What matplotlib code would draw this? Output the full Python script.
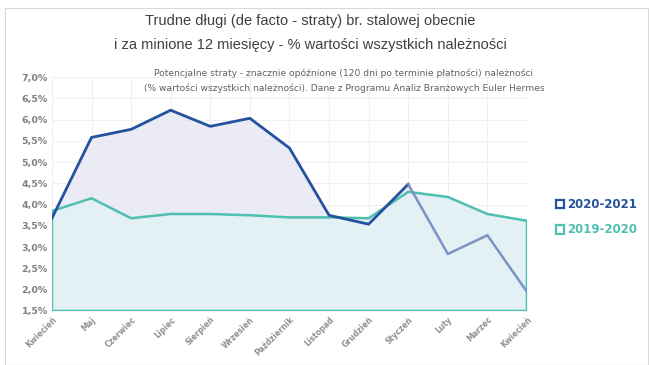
import matplotlib
matplotlib.use("Agg")
import matplotlib.pyplot as plt
from matplotlib.patches import Rectangle
from matplotlib.ticker import FuncFormatter
import numpy as np

months = ["Kwiecień", "Maj", "Czerwiec", "Lipiec", "Sierpień", "Wrzesień",
          "Październik", "Listopad", "Grudzień", "Styczeń", "Luty", "Marzec", "Kwiecień"]
s2020_2021 = [3.68, 5.58, 5.77, 6.22, 5.84, 6.03, 5.33, 3.75, 3.54, 4.48, 2.84, 3.28, 1.95]
s2019_2020 = [3.85, 4.15, 3.68, 3.78, 3.78, 3.75, 3.70, 3.70, 3.68, 4.30, 4.18, 3.78, 3.62]
labels = ["2020-2021", "2019-2020"]

blue = "#24529e"
teal = "#4fbfb0"
base = 1.5

fig = plt.figure(figsize=(6.49, 3.65), dpi=100)
fig.patch.set_facecolor("white")
fig.patches.append(Rectangle((0.008, 0.0), 0.99, 0.978, transform=fig.transFigure,
                             fill=False, edgecolor="#d9d9d9", lw=0.8))

ax = fig.add_axes([0.080, 0.148, 0.732, 0.641])
x = np.arange(len(months))

ax.fill_between(x, base, s2020_2021, color="#e6e6f4", alpha=0.8, lw=0, zorder=1)
ax.fill_between(x, base, s2019_2020, color="#e3f0f4", lw=0, zorder=2)
ax.plot(np.r_[x[0], x, x[-1], x[0], x[0]],
        np.r_[base, s2019_2020, base, base, base],
        color=teal, lw=1.8, zorder=3, solid_joinstyle="round")
ax.plot(x[:10], s2020_2021[:10], color=blue, lw=2.0, zorder=4)
ax.plot(x[9:], s2020_2021[9:], color="#7b93c6", lw=1.8, zorder=4)

ax.set_xlim(0, len(months) - 1)
ax.set_ylim(1.5, 7.0)
ax.set_yticks(np.arange(1.5, 7.01, 0.5))
ax.yaxis.set_major_formatter(FuncFormatter(lambda v, p: f"{v:.1f}%".replace(".", ",")))
ax.set_xticks(x)
ax.set_xticklabels(months, rotation=45, ha="right", rotation_mode="anchor")
ax.grid(True, color="#ececec", lw=0.6)
ax.set_axisbelow(True)
for s in ax.spines.values():
    s.set_visible(False)
ax.tick_params(length=0, labelsize=6.8, labelcolor="#808080", pad=3)
for t in ax.get_xticklabels():
    t.set_fontweight("bold")
    t.set_fontsize(5.6)
    t.set_color("#909090")
for t in ax.get_yticklabels():
    t.set_fontweight("bold")

fig.text(0.478, 0.942, "Trudne długi (de facto - straty) br. stalowej obecnie",
         ha="center", va="center", fontsize=10.5, color="#404040",
         family="Liberation Sans")
fig.text(0.478, 0.876, "i za minione 12 miesięcy - % wartości wszystkich należności",
         ha="center", va="center", fontsize=10.5, color="#404040",
         family="Liberation Sans")
fig.text(0.53, 0.800, "Potencjalne straty - znacznie opóźnione (120 dni po terminie płatności) należności",
         ha="center", va="center", fontsize=6.6, color="#606060")
fig.text(0.53, 0.757, "(% wartości wszystkich należności). Dane z Programu Analiz Branżowych Euler Hermes",
         ha="center", va="center", fontsize=6.6, color="#606060")

for i, (lab, c) in enumerate(zip(labels, [blue, teal])):
    yy = 0.443 - i * 0.070
    fig.patches.append(Rectangle((0.857, yy - 0.014), 0.012, 0.024, transform=fig.transFigure,
                                 fill=False, edgecolor=c, lw=1.6))
    fig.text(0.874, yy - 0.002, lab, ha="left", va="center", fontsize=8.5,
             fontweight="bold", color=c)

fig.savefig("out.png", dpi=100, facecolor="white")
